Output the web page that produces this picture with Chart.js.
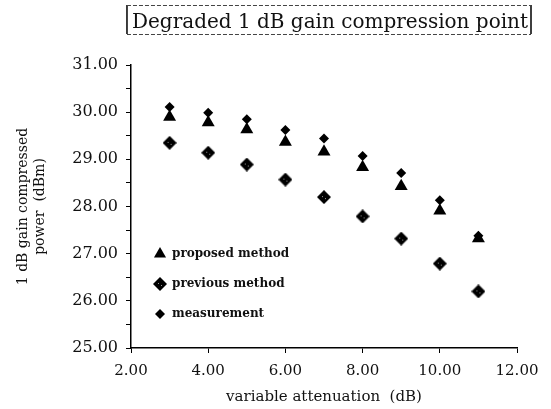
<!DOCTYPE html>
<html lang="en">
<head>
    <meta charset="UTF-8">
    <title>Degraded 1 dB gain compression point</title>
    <script src="https://cdn.jsdelivr.net/npm/chart.js"></script>
    <style>
        body {
            margin: 0;
            background: white;
        }
        #chart {
            display: block;
        }
    </style>
</head>
<body>
    <canvas id="chart" width="551" height="409"></canvas>

    <script>
        // values
        const attenuation = [3, 4, 5, 6, 7, 8, 9, 10, 11];
        const proposed = [29.90, 29.78, 29.63, 29.37, 29.16, 28.83, 28.43, 27.91, 27.32];
        const previous = [29.35, 29.14, 28.89, 28.57, 28.20, 27.79, 27.32, 26.79, 26.20];
        const measurement = [30.11, 29.99, 29.85, 29.62, 29.44, 29.07, 28.71, 28.13, 27.38];
        const seriesNames = ['proposed method', 'previous method', 'measurement'];
        const titleText = 'Degraded 1 dB gain compression point';

        const serif = "'DejaVu Serif', 'Liberation Serif', serif";

        function toPoints(ys) {
            return attenuation.map((x, i) => ({ x: x, y: ys[i] }));
        }

        // black diamond with a couple of light specks, like the scanned marker
        function speckledDiamond(size) {
            const c = document.createElement('canvas');
            c.width = size;
            c.height = size;
            const g = c.getContext('2d');
            const h = size / 2;
            g.fillStyle = '#000';
            g.beginPath();
            g.moveTo(h, 0);
            g.lineTo(size, h);
            g.lineTo(h, size);
            g.lineTo(0, h);
            g.closePath();
            g.fill();
            g.fillStyle = '#999';
            g.fillRect(Math.floor(h) - 2, Math.floor(h) - 1, 1, 1);
            g.fillRect(Math.floor(h) + 1, Math.floor(h) + 1, 1, 1);
            return c;
        }
        const prevMarker = speckledDiamond(14);

        function drawMarker(ctx, style, x, y, r) {
            ctx.fillStyle = '#000';
            if (style instanceof HTMLCanvasElement) {
                ctx.drawImage(style, Math.round(x - style.width / 2), Math.round(y - style.height / 2));
                return;
            }
            ctx.beginPath();
            if (style === 'triangle') {
                ctx.moveTo(x, y - r);
                ctx.lineTo(x + r * 0.866, y + r * 0.5);
                ctx.lineTo(x - r * 0.866, y + r * 0.5);
            } else {
                ctx.moveTo(x, y - r);
                ctx.lineTo(x + r, y);
                ctx.lineTo(x, y + r);
                ctx.lineTo(x - r, y);
            }
            ctx.closePath();
            ctx.fill();
        }

        const boxedTitle = {
            id: 'boxedTitle',
            afterDraw(chart) {
                const ctx = chart.ctx;
                ctx.save();
                ctx.font = '20px ' + serif;
                ctx.fillStyle = '#111';
                ctx.textAlign = 'right';
                ctx.textBaseline = 'alphabetic';
                const right = 528;
                const w = ctx.measureText(titleText).width;
                ctx.fillText(titleText, right, 28);
                const left = right - w - 5;
                ctx.strokeStyle = '#000';
                ctx.lineWidth = 1.5;
                ctx.beginPath();
                ctx.moveTo(left, 5);
                ctx.lineTo(left, 34);
                ctx.moveTo(531, 5);
                ctx.lineTo(531, 34);
                ctx.stroke();
                ctx.lineWidth = 1;
                ctx.strokeStyle = '#444';
                ctx.setLineDash([4, 2]);
                ctx.beginPath();
                ctx.moveTo(left, 5.5);
                ctx.lineTo(531, 5.5);
                ctx.moveTo(left, 34.5);
                ctx.lineTo(531, 34.5);
                ctx.stroke();
                ctx.restore();
            }
        };

        const innerLegend = {
            id: 'innerLegend',
            afterDraw(chart) {
                const ctx = chart.ctx;
                const area = chart.chartArea;
                ctx.save();
                ctx.font = 'bold 12px ' + serif;
                ctx.textAlign = 'left';
                ctx.textBaseline = 'middle';
                const rows = [189, 219, 249];
                chart.data.datasets.forEach(ds => {
                    const y = area.top + rows[ds.legendRow];
                    const x = area.left + 29;
                    drawMarker(ctx, ds.pointStyle, x, y, ds.legendRadius);
                    ctx.fillStyle = '#111';
                    ctx.fillText(ds.label, x + 12, y);
                });
                ctx.restore();
            }
        };

        new Chart(document.getElementById('chart'), {
            type: 'scatter',
            data: {
                datasets: [
                    {
                        label: seriesNames[1],
                        data: toPoints(previous),
                        pointStyle: prevMarker,
                        legendRow: 1,
                        legendRadius: 6
                    },
                    {
                        label: seriesNames[0],
                        data: toPoints(proposed),
                        pointStyle: 'triangle',
                        pointRadius: 7.5,
                        backgroundColor: '#000',
                        borderColor: '#000',
                        borderWidth: 0,
                        legendRow: 0,
                        legendRadius: 7
                    },
                    {
                        label: seriesNames[2],
                        data: toPoints(measurement),
                        pointStyle: 'rectRot',
                        pointRadius: 5,
                        backgroundColor: '#000',
                        borderColor: '#000',
                        borderWidth: 0,
                        legendRow: 2,
                        legendRadius: 5
                    }
                ]
            },
            options: {
                responsive: false,
                animation: false,
                layout: {
                    padding: { top: 65, right: 34, left: 0, bottom: 0 }
                },
                plugins: {
                    legend: { display: false },
                    title: { display: false },
                    tooltip: { enabled: false }
                },
                scales: {
                    x: {
                        type: 'linear',
                        min: 2,
                        max: 12,
                        afterFit(scale) { scale.height = 61; },
                        border: { color: '#000', width: 1.5 },
                        grid: { drawOnChartArea: false, tickLength: 5, color: '#000' },
                        ticks: {
                            stepSize: 1,
                            padding: 9,
                            maxRotation: 0,
                            color: '#111',
                            font: { family: serif, size: 15 },
                            callback: v => (v % 2 === 0 ? v.toFixed(2) : '')
                        },
                        title: {
                            display: true,
                            text: 'variable attenuation  (dB)',
                            color: '#111',
                            font: { family: serif, size: 15 },
                            padding: { top: 0, bottom: 3 }
                        }
                    },
                    y: {
                        min: 25,
                        max: 31,
                        afterFit(scale) { scale.width = 131; },
                        border: { color: '#000', width: 1.5 },
                        grid: { drawOnChartArea: false, tickLength: 5, color: '#000' },
                        ticks: {
                            stepSize: 0.5,
                            padding: 8,
                            color: '#111',
                            font: { family: serif, size: 16 },
                            callback: v => (v % 1 === 0 ? v.toFixed(2) : '')
                        },
                        title: {
                            display: true,
                            text: ['1 dB gain compressed', 'power  (dBm)'],
                            color: '#111',
                            font: { family: serif, size: 14, lineHeight: 1.2 },
                            padding: { top: 15, bottom: 0 }
                        }
                    }
                }
            },
            plugins: [boxedTitle, innerLegend]
        });
    </script>
</body>
</html>
